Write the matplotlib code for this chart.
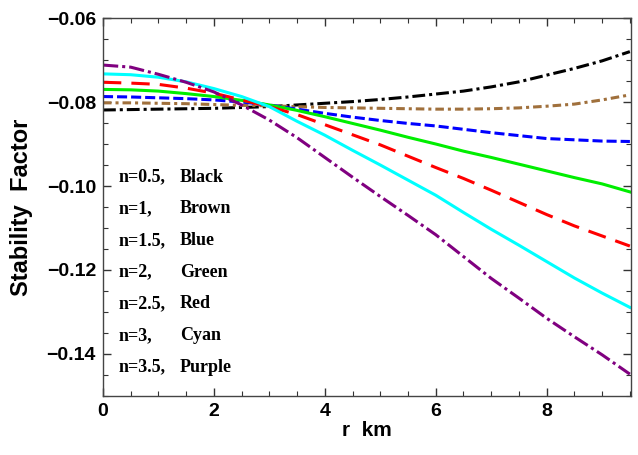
import numpy as np
import matplotlib
matplotlib.use("Agg")
import matplotlib.pyplot as plt
from matplotlib.ticker import MultipleLocator

# values every 0.5 km
r = [0, 0.5, 1, 1.5, 2, 2.5, 3, 3.5, 4, 4.5, 5, 5.5, 6, 6.5, 7, 7.5, 8, 8.5, 9, 9.5]
black = [-0.0819, -0.0818, -0.0817, -0.0816, -0.0815, -0.0813, -0.0811, -0.0807, -0.0803, -0.0799,
         -0.0794, -0.0788, -0.0781, -0.0774, -0.0764, -0.0752, -0.0736, -0.0720, -0.0702, -0.0680]
brown = [-0.0802, -0.0802, -0.0803, -0.0804, -0.0806, -0.0808, -0.0809, -0.0811, -0.0813, -0.0814,
         -0.0815, -0.0816, -0.0817, -0.0817, -0.0816, -0.0814, -0.0810, -0.0805, -0.0795, -0.0783]
blue = [-0.0787, -0.0788, -0.0790, -0.0792, -0.0795, -0.0800, -0.0807, -0.0817, -0.0827, -0.0836,
        -0.0844, -0.0851, -0.0857, -0.0865, -0.0873, -0.0880, -0.0887, -0.0890, -0.0893, -0.0894]
green = [-0.0770, -0.0771, -0.0774, -0.0780, -0.0787, -0.0796, -0.0807, -0.0820, -0.0835, -0.0851,
         -0.0867, -0.0884, -0.0900, -0.0917, -0.0932, -0.0948, -0.0964, -0.0980, -0.0995, -0.1014]
red = [-0.0753, -0.0755, -0.0758, -0.0767, -0.0779, -0.0795, -0.0811, -0.0830, -0.0854, -0.0878,
       -0.0902, -0.0929, -0.0956, -0.0982, -0.1010, -0.1039, -0.1068, -0.1095, -0.1119, -0.1143]
cyan = [-0.0733, -0.0735, -0.0741, -0.0752, -0.0768, -0.0787, -0.0811, -0.0846, -0.0879, -0.0915,
        -0.0950, -0.0986, -0.1022, -0.1063, -0.1103, -0.1141, -0.1180, -0.1219, -0.1255, -0.1289]
purple = [-0.0712, -0.0717, -0.0734, -0.0753, -0.0776, -0.0807, -0.0843, -0.0885, -0.0932, -0.0979,
          -0.1025, -0.1070, -0.1116, -0.1168, -0.1220, -0.1267, -0.1315, -0.1359, -0.1402, -0.1448]

labels_n = ["n=0.5,", "n=1,", "n=1.5,", "n=2,", "n=2.5,", "n=3,", "n=3.5,"]
labels_c = ["Black", "Brown", "Blue", "Green", "Red", "Cyan", "Purple"]

fig = plt.figure(figsize=(6.38, 4.55), dpi=100)
ax = fig.add_axes([0.1614, 0.1297, 0.8276, 0.8307])

lw = 2.2
ax.plot(r, black, color="black", lw=lw, dashes=(4.2, 1.3, 1.0, 1.3))
ax.plot(r, brown, color="#a0703c", lw=lw, dashes=(2.8, 1.3, 1.0, 1.3))
ax.plot(r, blue, color="#0000ff", lw=lw, dashes=(3.3, 1.3))
ax.plot(r, green, color="#00ee00", lw=lw)
ax.plot(r, red, color="#ff0000", lw=lw, dashes=(6, 3.3))
ax.plot(r, cyan, color="#00ffff", lw=lw)
ax.plot(r, purple, color="#800080", lw=lw, dashes=(5, 1.3, 1.0, 1.3))

ax.set_xlim(0, 9.52)
ax.set_ylim(-0.15, -0.06)
ax.xaxis.set_major_locator(MultipleLocator(2))
ax.xaxis.set_minor_locator(MultipleLocator(0.5))
ax.yaxis.set_minor_locator(MultipleLocator(0.005))
ax.tick_params(which="both", direction="in", top=True, right=True, color="#333333")
ax.tick_params(which="major", length=6, width=1, labelsize=14, pad=5)
ax.tick_params(which="minor", length=3.5, width=0.8)
ax.set_yticks([-0.14, -0.12, -0.10, -0.08, -0.06])
ax.set_yticklabels(["\u22120.14", "\u22120.12", "\u22120.10", "\u22120.08", "\u22120.06"])
for t in ax.get_xticklabels() + ax.get_yticklabels():
    t.set_fontweight("bold")
    t.set_family("Liberation Sans")
for s in ax.spines.values():
    s.set_color("#444444")
    s.set_linewidth(1.0)

ax.set_xlabel("r  km", fontsize=15, fontweight="bold", family="Liberation Sans", labelpad=1)
ax.set_ylabel("Stability  Factor", fontsize=17, fontweight="bold", family="Liberation Sans")
ax.yaxis.set_label_coords(-0.132, 0.5)

for i in range(7):
    y = 177 + i * 31.7
    fig.text(119 / 638, 1 - y / 455, labels_n[i], fontsize=13, fontweight="bold",
             family="Liberation Serif", va="center")
    fig.text(180 / 638, 1 - y / 455, labels_c[i], fontsize=13, fontweight="bold",
             family="Liberation Serif", va="center")

fig.savefig("out.png", dpi=100)
